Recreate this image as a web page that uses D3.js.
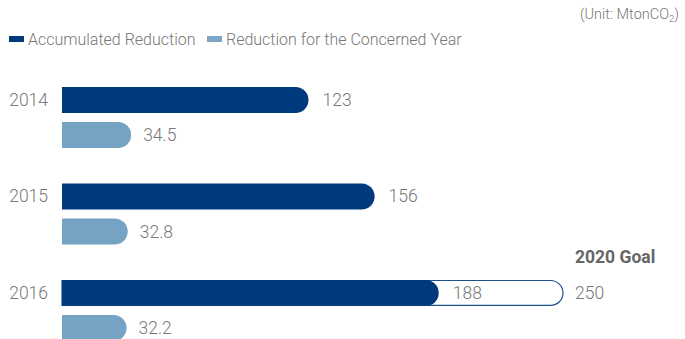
<!DOCTYPE html>
<html><head><meta charset="utf-8">
<script src="https://cdn.jsdelivr.net/npm/d3@7"></script>
<style>
html,body{margin:0;padding:0;background:#fff;}
svg{display:block;font-family:Roboto,"Noto Sans",sans-serif;}
</style></head>
<body>
<svg id="c" width="685" height="339"></svg>
<script>
const years = ["2014", "2015", "2016"];
const accumulated = [123, 156, 188];
const concernedYear = [34.5, 32.8, 32.2];
const goalYear = "2016";
const goalValue = 250;
const goalLabel = "2020 Goal";
const seriesNames = ["Accumulated Reduction", "Reduction for the Concerned Year"];
const seriesColors = ["#003a7d", "#74a3c3"];
const legendColors = ["#003a7d", "#7fa6c6"];

const svg = d3.select("#c");
const textColor = "#777";

const x = d3.scaleLinear().domain([0, goalValue]).range([62, 563]);
const y = d3.scaleBand().domain(years).range([87, 341]).paddingInner(0.368).paddingOuter(0);
const ys = d3.scaleBand().domain(["acc", "year"]).range([0, y.bandwidth()]).paddingInner(0.26).paddingOuter(0);
const bh = ys.bandwidth();

function roundBar(x0, x1, y0, h) {
  const r = h / 2;
  return `M${x0},${y0}H${x1 - r}A${r},${r} 0 0 1 ${x1 - r},${y0 + h}H${x0}Z`;
}

// unit
const unit = svg.append("text").attr("x", 679).attr("y", 19).attr("text-anchor", "end")
  .attr("font-size", 14.5).attr("fill", textColor).attr("font-weight", 300);
unit.append("tspan").text("(Unit: MtonCO");
unit.append("tspan").attr("font-size", 9.5).attr("dy", 3).text("2");
unit.append("tspan").attr("dy", -3).text(")");

// legend
const legendX = [9, 207];
seriesNames.forEach((n, i) => {
  svg.append("rect").attr("x", legendX[i]).attr("y", 36).attr("width", 15).attr("height", 6).attr("fill", legendColors[i]);
  svg.append("text").attr("x", legendX[i] + 19).attr("y", 44.5).attr("font-size", 16)
    .attr("fill", textColor).attr("font-weight", 300).text(n);
});

// goal outline
const gy = y(goalYear) + ys("acc");
svg.append("path")
  .attr("d", roundBar(x(0), x(goalValue), gy + 0.5, bh - 1))
  .attr("fill", "#fff").attr("stroke", "#1d4f8f").attr("stroke-width", 1.2);

const groups = svg.selectAll("g.yr").data(years).join("g").attr("class", "yr")
  .attr("transform", d => `translate(0,${y(d)})`);

groups.append("text").attr("x", 48).attr("y", ys("acc") + bh / 2 + 6)
  .attr("text-anchor", "end").attr("font-size", 17.5).attr("font-weight", 300).attr("fill", textColor)
  .text(d => d);

groups.append("path").attr("fill", seriesColors[0])
  .attr("d", (d, i) => roundBar(x(0), x(accumulated[i]), ys("acc"), bh));
groups.append("path").attr("fill", seriesColors[1])
  .attr("d", (d, i) => roundBar(x(0), x(concernedYear[i]), ys("year"), bh));

groups.append("text").attr("x", (d, i) => x(accumulated[i]) + 14).attr("y", ys("acc") + bh / 2 + 6)
  .attr("font-size", 17.5).attr("font-weight", 300).attr("fill", textColor)
  .text((d, i) => accumulated[i]);
groups.append("text").attr("x", (d, i) => x(concernedYear[i]) + 12).attr("y", ys("year") + bh / 2 + 6)
  .attr("font-size", 17.5).attr("font-weight", 300).attr("fill", textColor)
  .text((d, i) => concernedYear[i]);

// goal labels
svg.append("text").attr("x", x(goalValue) + 12).attr("y", gy + bh / 2 + 6)
  .attr("font-size", 17.5).attr("font-weight", 300).attr("fill", textColor).text(goalValue);
svg.append("text").attr("x", x(goalValue) + 12).attr("y", gy - 17)
  .attr("font-size", 17.5).attr("font-weight", 700).attr("fill", "#666").text(goalLabel);
</script>
</body></html>
